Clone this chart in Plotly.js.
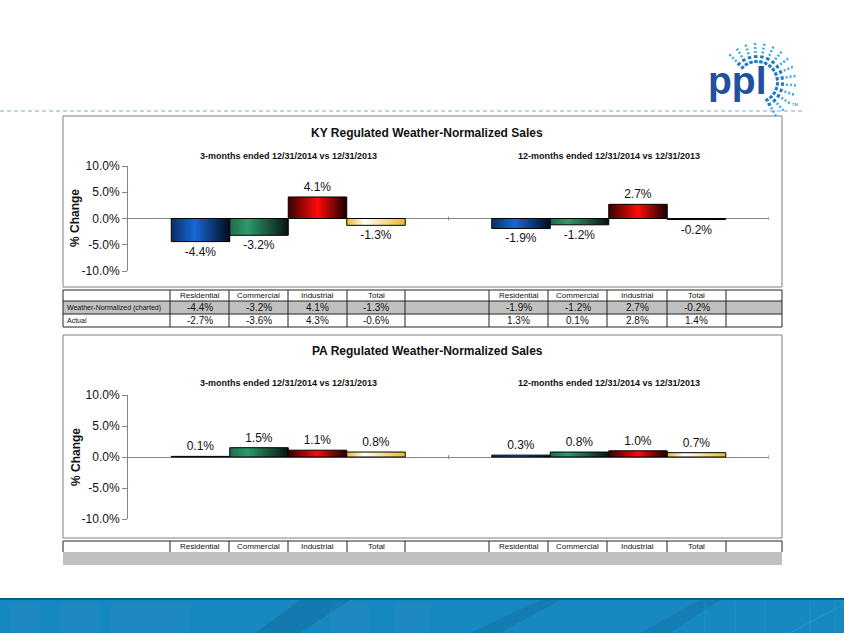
<!DOCTYPE html>
<html>
<head>
<meta charset="utf-8">
<script src="https://cdn.plot.ly/plotly-3.0.1.min.js"></script>
<style>
  html, body { margin: 0; padding: 0; background: #fff; }
  #chart { width: 844px; height: 633px; }
</style>
</head>
<body>
<div id="chart"></div>
<script>
// values
const categories = ['Residential', 'Commercial', 'Industrial', 'Total'];
const periods = ['3-months ended 12/31/2014 vs 12/31/2013', '12-months ended 12/31/2014 vs 12/31/2013'];
const kyCharted3m = [-4.4, -3.2, 4.1, -1.3];
const kyCharted12m = [-1.9, -1.2, 2.7, -0.2];
const kyActual3m = [-2.7, -3.6, 4.3, -0.6];
const kyActual12m = [1.3, 0.1, 2.8, 1.4];
const paCharted3m = [0.1, 1.5, 1.1, 0.8];
const paCharted12m = [0.3, 0.8, 1.0, 0.7];
const yTicks = [-10, -5, 0, 5, 10];

const FONT = '"Liberation Sans", Arial, sans-serif';
const W = 844, H = 633;
const px = x => x / W;
const py = y => 1 - y / H;
const fmt = v => v.toFixed(1) + '%';

const barColors = {Residential: '#1560c8', Commercial: '#2e8b60', Industrial: '#e00000', Total: '#f5d070'};
const gradStops = {
    Residential: [[0, '#0c2f66'], [0.4, '#1668d6'], [1, '#020b1c']],
    Commercial: [[0, '#1f6b4a'], [0.3, '#2f9a6b'], [1, '#06150f']],
    Industrial: [[0, '#3a0000'], [0.5, '#ff0a0a'], [1, '#150000']],
    Total: [[0, '#f2b828'], [0.3, '#ffffff'], [1, '#f0b828']]
};

function barTraces(vals3m, vals12m, xa, ya) {
    return categories.map((c, i) => ({
        type: 'bar', name: c, x: periods, y: [vals3m[i], vals12m[i]],
        xaxis: xa, yaxis: ya,
        text: [fmt(vals3m[i]), fmt(vals12m[i])],
        textposition: 'outside', cliponaxis: false,
        textfont: {family: FONT, size: 12, color: '#111'},
        marker: {color: barColors[c], line: {color: '#000', width: 1}},
        hoverinfo: 'skip'
    }));
}

function yAxis(top, bottom, anchor) {
    return {
        domain: [py(bottom), py(top)], anchor: anchor, range: [-10, 10],
        tickvals: yTicks, ticktext: yTicks.map(fmt),
        showline: true, linecolor: '#868686', linewidth: 1,
        ticks: 'outside', ticklen: 5, tickcolor: '#868686',
        showgrid: false, zeroline: true, zerolinecolor: '#868686', zerolinewidth: 1,
        tickfont: {family: FONT, size: 12, color: '#111'}, fixedrange: true
    };
}
function xAxis(anchor) {
    return {
        domain: [px(128), px(769)], anchor: anchor, type: 'category', range: [-0.5, 1.5],
        showticklabels: false, ticks: '', showline: false, showgrid: false, zeroline: false,
        fixedrange: true
    };
}

const shapes = [];
const annotations = [];

function rect(x0, y0, x1, y1, fill, line, extra) {
    shapes.push(Object.assign({type: 'rect', xref: 'paper', yref: 'paper',
        x0: px(x0), x1: px(x1), y0: py(y0), y1: py(y1),
        fillcolor: fill || 'rgba(0,0,0,0)', line: line || {width: 0}, layer: 'below'}, extra || {}));
}
function seg(x0, y0, x1, y1, color, width, dash) {
    shapes.push({type: 'line', xref: 'paper', yref: 'paper',
        x0: px(x0), x1: px(x1), y0: py(y0), y1: py(y1),
        line: {color: color, width: width || 1, dash: dash || 'solid'}});
}
function label(x, y, text, size, opts) {
    annotations.push(Object.assign({xref: 'paper', yref: 'paper', x: px(x), y: py(y),
        text: text, showarrow: false, xanchor: 'center', yanchor: 'middle',
        font: {family: FONT, size: size, color: '#111'}}, opts || {}));
}

// header line and logo
seg(0, 111, 805, 111, '#7fa7cf', 1, '4px,3px');
label(737, 80, '<b>ppl</b>', 39, {font: {family: FONT, size: 39, color: '#21509f'}});
label(795, 104, 'TM', 4, {font: {family: FONT, size: 4, color: '#21509f'}});
const rayCenter = [757, 82];
for (let a = -135; a <= 62; a += 14) {
    const r = a * Math.PI / 180;
    const c = Math.cos(r), s = Math.sin(r);
    const at = rad => [rayCenter[0] + rad * c, rayCenter[1] + rad * s];
    const p0 = at(19), p1 = at(27), p2 = at(29), p3 = at(39);
    seg(p0[0], p0[1], p1[0], p1[1], '#1f78c8', 3.5, '3px,2px');
    seg(p2[0], p2[1], p3[0], p3[1], '#3aaee8', 2.5, '2px,2px');
}

// chart boxes
rect(63, 116, 782, 287, '#fff', {color: '#808080', width: 1});
rect(63, 335, 782, 538, '#fff', {color: '#808080', width: 1});

// titles
label(427, 133, '<b>KY Regulated Weather-Normalized Sales</b>', 12);
label(427, 351, '<b>PA Regulated Weather-Normalized Sales</b>', 12);
[['x', 156], ['x2', 383]].forEach(([xr, yy]) => {
    periods.forEach((p, k) => {
        annotations.push({xref: xr, yref: 'paper', x: k, y: py(yy), text: '<b>' + p + '</b>',
            showarrow: false, xanchor: 'center', yanchor: 'middle',
            font: {family: FONT, size: 9, color: '#111'}});
    });
});
label(75, 218, '<b>% Change</b>', 12, {textangle: -90});
label(76, 457, '<b>% Change</b>', 12, {textangle: -90});

// small category boundary ticks on the zero line
[['x', 'y', 0.35], ['x2', 'y2', 0.3]].forEach(([xr, yr, h]) => {
    [0.5, 1.5].forEach(b => shapes.push({type: 'line', xref: xr, yref: yr,
        x0: b, x1: b, y0: -h, y1: h, line: {color: '#868686', width: 1}}));
});

// tables
const cols = [63, 170, 229, 288, 347, 405, 489, 548, 607, 667, 726, 782];
const TL = '#222';
function tableHeader(top, bottom) {
    categories.forEach((c, i) => {
        label((cols[i + 1] + cols[i + 2]) / 2, (top + bottom) / 2, c, 8);
        label((cols[i + 6] + cols[i + 7]) / 2, (top + bottom) / 2, c, 8);
    });
}
function valueRow(y, v3, v12) {
    categories.forEach((c, i) => {
        label((cols[i + 1] + cols[i + 2]) / 2, y, fmt(v3[i]), 10);
        label((cols[i + 6] + cols[i + 7]) / 2, y, fmt(v12[i]), 10);
    });
}

// KY table
const kyRows = [290, 301, 314, 327];
rect(63, 301, 782, 314, '#c0c0c0');
kyRows.forEach(y => seg(63, y, 782, y, TL, 1));
cols.forEach(x => seg(x, 290, x, 327, TL, 1));
tableHeader(290, 301);
label(65, 307.5, 'Weather-Normalized (charted)', 7, {xanchor: 'left'});
label(65, 320.5, 'Actual', 7, {xanchor: 'left'});
valueRow(307.5, kyCharted3m, kyCharted12m);
valueRow(320.5, kyActual3m, kyActual12m);

// PA table
rect(63, 552, 782, 565, '#c0c0c0');
seg(63, 541, 782, 541, TL, 1);
cols.forEach(x => seg(x, 541, x, 552, TL, 1));
tableHeader(541, 552);

// footer banner
rect(0, 598, 844, 633, '#1788c0');
rect(0, 598, 844, 600, '#0b5c8a');
[[10, 40], [60, 100], [110, 150], [150, 190], [330, 370], [395, 430]].forEach(([a, b]) =>
    rect(a, 604, b, 633, 'rgba(255,255,255,0.025)'));
shapes.push({type: 'path', xref: 'paper', yref: 'paper', layer: 'below',
    path: `M${px(255)},${py(633)} L${px(300)},${py(600)} L${px(350)},${py(600)} L${px(300)},${py(633)} Z`,
    fillcolor: 'rgba(0,40,80,0.14)', line: {width: 0}});
shapes.push({type: 'path', xref: 'paper', yref: 'paper', layer: 'below',
    path: `M${px(470)},${py(633)} L${px(540)},${py(600)} L${px(560)},${py(600)} L${px(500)},${py(633)} Z`,
    fillcolor: 'rgba(0,40,80,0.12)', line: {width: 0}});
shapes.push({type: 'path', xref: 'paper', yref: 'paper', layer: 'below',
    path: `M${px(640)},${py(633)} L${px(700)},${py(600)} L${px(720)},${py(600)} L${px(670)},${py(633)} Z`,
    fillcolor: 'rgba(0,40,80,0.10)', line: {width: 0}});
[705, 735, 765, 810, 835].forEach(x => seg(x, 601, x, 633, 'rgba(255,255,255,0.07)', 1));
seg(790, 633, 844, 604, 'rgba(255,255,255,0.1)', 1);

const data = barTraces(kyCharted3m, kyCharted12m, 'x', 'y')
    .concat(barTraces(paCharted3m, paCharted12m, 'x2', 'y2'));

const layout = {
    width: W, height: H, margin: {l: 0, r: 0, t: 0, b: 0},
    paper_bgcolor: '#fff', plot_bgcolor: 'rgba(0,0,0,0)',
    showlegend: false, barmode: 'group', bargap: 0.27, bargroupgap: 0,
    font: {family: FONT, color: '#111'},
    xaxis: xAxis('y'), yaxis: yAxis(166, 271, 'x'),
    xaxis2: xAxis('y2'), yaxis2: yAxis(395, 519, 'x2'),
    shapes: shapes, annotations: annotations
};

// Excel-style shaded bars: swap the flat fill for a horizontal gradient
function applyGradients(gd) {
    const svg = gd.querySelector('svg.main-svg');
    if (!svg) return;
    let defs = svg.querySelector('#bar-grads');
    if (!defs) {
        const NS = 'http://www.w3.org/2000/svg';
        defs = document.createElementNS(NS, 'defs');
        defs.setAttribute('id', 'bar-grads');
        Object.keys(gradStops).forEach(name => {
            const g = document.createElementNS(NS, 'linearGradient');
            g.setAttribute('id', 'grad-' + name);
            g.setAttribute('x1', '0'); g.setAttribute('x2', '1');
            g.setAttribute('y1', '0'); g.setAttribute('y2', '0');
            gradStops[name].forEach(([o, col]) => {
                const s = document.createElementNS(NS, 'stop');
                s.setAttribute('offset', o);
                s.setAttribute('stop-color', col);
                g.appendChild(s);
            });
            defs.appendChild(g);
        });
        svg.insertBefore(defs, svg.firstChild);
    }
    gd.querySelectorAll('g.trace.bars').forEach(t => {
        const cd = t.__data__;
        const name = cd && cd[0] && cd[0].trace && cd[0].trace.name;
        if (!gradStops[name]) return;
        t.querySelectorAll('g.point path').forEach(p => { p.style.fill = 'url(#grad-' + name + ')'; });
    });
}

Plotly.newPlot('chart', data, layout, {staticPlot: true, displayModeBar: false}).then(gd => {
    applyGradients(gd);
    gd.on('plotly_afterplot', () => applyGradients(gd));
});
</script>
</body>
</html>
